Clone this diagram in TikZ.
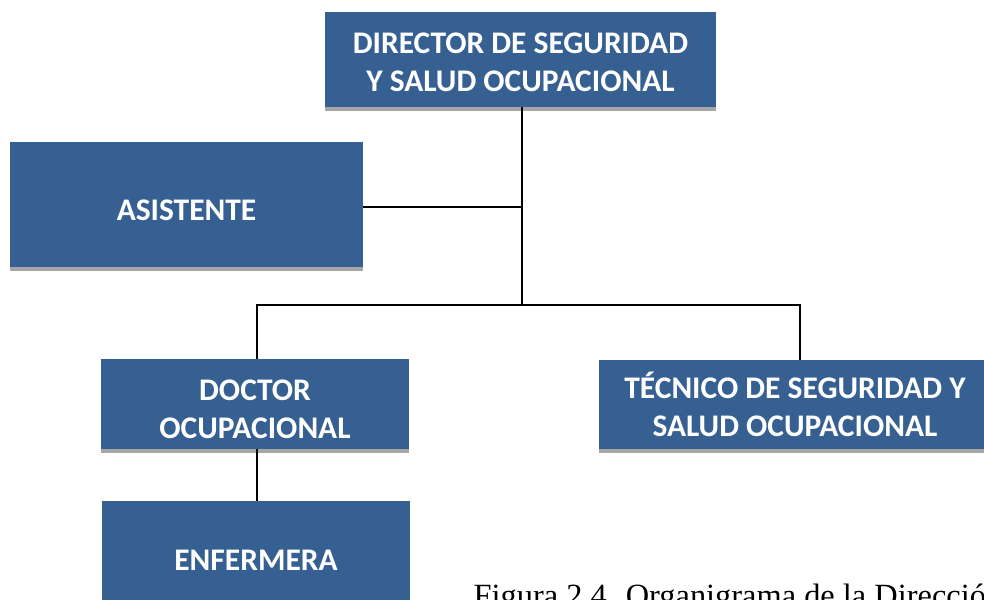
\documentclass[tikz,border=0pt]{standalone}
\usepackage{fontspec}
\setmainfont{Liberation Serif}
\newfontfamily\boxfont{Carlito}
\usepackage{tikz}
\usetikzlibrary{shadows}
\definecolor{boxblue}{RGB}{54,96,146}
\definecolor{stripgray}{RGB}{166,166,166}

\begin{document}
\begin{tikzpicture}[x=0.75pt,y=-0.75pt,
        orgbox/.style={fill=boxblue,text=white,inner sep=0pt,align=center,
            font=\boxfont\bfseries\fontsize{23.6}{28.5}\selectfont,
            drop shadow={shadow xshift=0pt,shadow yshift=-3pt,fill=stripgray,opacity=1}},
        conn/.style={draw=black,line width=1.5pt}]
        \clip (0,0) rectangle (984,599);
        % boxes
        \node[orgbox,minimum width=293.25pt,minimum height=71.25pt,text height=47.5pt] (director) at (520.5,59.5)
            {DIRECTOR DE SEGURIDAD\\Y SALUD OCUPACIONAL};
        \node[orgbox,minimum width=264.75pt,minimum height=93.75pt,text height=24.2pt] (asistente) at (186.5,204.5)
            {ASISTENTE};
        \node[orgbox,minimum width=231pt,minimum height=67.5pt,text height=51.2pt] (doctor) at (255,404)
            {DOCTOR\\OCUPACIONAL};
        \node[orgbox,minimum width=294pt,minimum height=66.75pt,text height=48.9pt] (tecnico) at (795,404.5)
            {TÉCNICO DE SEGURIDAD Y\\SALUD OCUPACIONAL};
        \node[orgbox,minimum width=231pt,minimum height=89.25pt] (enfermera) at (256,560.5)
            {ENFERMERA};
        \node[anchor=base west,font=\fontsize{24.3}{29}\selectfont] (caption) at (469,606.5)
            {Figura 2.4. Organigrama de la Dirección};
        % connectors
        \draw[conn] ([xshift=1.1pt]director.south) -- ++(0,198) coordinate (bus);
        \draw[conn] ([yshift=-1.9pt]asistente.east) -- ++(160,0);
        \draw[conn] ([xshift=1.5pt]doctor.north) |- (bus) -| ([xshift=3.75pt]tecnico.north);
        \draw[conn] ([xshift=1.5pt]doctor.south) -- ++(0,52);
\end{tikzpicture}
\end{document}
